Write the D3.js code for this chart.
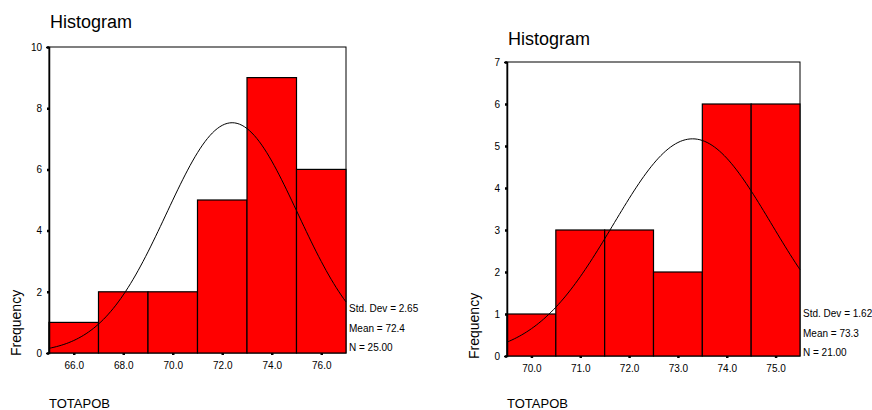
<!DOCTYPE html>
<html>
<head>
<meta charset="utf-8">
<script src="https://cdn.jsdelivr.net/npm/d3@7"></script>
<style>
  body { margin: 0; background: #fff; }
  text { font-family: "Liberation Sans", Arial, sans-serif; }
</style>
</head>
<body>
<div class="chart"></div>
<script>
// left histogram
const binsA = [65, 67, 69, 71, 73, 75, 77];
const countsA = [1, 2, 2, 5, 9, 6];
const xTicksA = [66, 68, 70, 72, 74, 76];
const yTicksA = [0, 2, 4, 6, 8, 10];
const statsA = { sd: 2.65, mean: 72.4, n: 25 };
const statLabelsA = ["Std. Dev = 2.65", "Mean = 72.4", "N = 25.00"];

// right histogram
const binsB = [69.5, 70.5, 71.5, 72.5, 73.5, 74.5, 75.5];
const countsB = [1, 3, 3, 2, 6, 6];
const xTicksB = [70, 71, 72, 73, 74, 75];
const yTicksB = [0, 1, 2, 3, 4, 5, 6, 7];
const statsB = { sd: 1.62, mean: 73.3, n: 21 };
const statLabelsB = ["Std. Dev = 1.62", "Mean = 73.3", "N = 21.00"];

const svg = d3.select(".chart").append("svg")
  .attr("width", 872)
  .attr("height", 410);

function drawHist(opt) {
  const g = svg.append("g");
  const bins = opt.bins;
  const x = d3.scaleLinear().domain([bins[0], bins[bins.length - 1]]).range([opt.left, opt.right]);
  const y = d3.scaleLinear().domain([0, opt.yMax]).range([opt.bottom, opt.top]);

  //title
  g.append("text").attr("x", opt.left + 1).attr("y", opt.titleY)
    .attr("font-size", 18).text("Histogram");

  //frame
  g.append("rect")
    .attr("x", opt.left).attr("y", opt.top)
    .attr("width", opt.right - opt.left).attr("height", opt.bottom - opt.top)
    .attr("fill", "none").attr("stroke", "#000").attr("stroke-width", 1);

  //bars
  g.selectAll("rect.bar").data(opt.counts).enter().append("rect")
    .attr("class", "bar")
    .attr("x", (d, i) => x(bins[i]))
    .attr("y", d => y(d))
    .attr("width", (d, i) => x(bins[i + 1]) - x(bins[i]))
    .attr("height", d => opt.bottom - y(d))
    .attr("fill", "#ff0000")
    .attr("stroke", "#000")
    .attr("stroke-width", 1.2);

  //normal curve from mean / sd / n
  const w = bins[1] - bins[0];
  const s = opt.stats;
  const pts = d3.range(0, 121).map(k => {
    const v = bins[0] + (bins[bins.length - 1] - bins[0]) * k / 120;
    const z = (v - s.mean) / s.sd;
    return [v, s.n * w / (s.sd * Math.sqrt(2 * Math.PI)) * Math.exp(-z * z / 2)];
  });
  g.append("path").datum(pts)
    .attr("d", d3.line().x(d => x(d[0])).y(d => y(d[1])).curve(d3.curveBasis))
    .attr("fill", "none").attr("stroke", "#000").attr("stroke-width", 1);

  //y axis
  const yAxis = d3.axisLeft(y).tickValues(opt.yTicks).tickSize(3).tickPadding(4).tickFormat(d3.format("d"));
  const ya = g.append("g").attr("transform", `translate(${opt.left},0)`).call(yAxis);
  ya.select(".domain").attr("stroke-width", 1.5);
  ya.selectAll(".tick line").attr("stroke-width", 2.5).attr("x2", -2);
  ya.selectAll("text").attr("font-size", 10).attr("font-family", "Liberation Sans, Arial, sans-serif");

  //x axis
  const xAxis = d3.axisBottom(x).tickValues(opt.xTicks).tickSize(3).tickPadding(6).tickFormat(d3.format(".1f"));
  const xa = g.append("g").attr("transform", `translate(0,${opt.bottom})`).call(xAxis);
  xa.select(".domain").remove();
  xa.selectAll(".tick line").attr("stroke-width", 2.5).attr("y2", 2);
  xa.selectAll("text").attr("font-size", 10).attr("font-family", "Liberation Sans, Arial, sans-serif");

  //axis titles
  g.append("text").attr("x", opt.left).attr("y", 408).attr("font-size", 13).text("TOTAPOB");
  g.append("text")
    .attr("transform", `translate(${opt.left - 28},${opt.bottom + 3}) rotate(-90)`)
    .attr("font-size", 14).text("Frequency");

  //stats
  g.selectAll("text.stat").data(opt.statLabels).enter().append("text")
    .attr("class", "stat")
    .attr("x", opt.right + 3)
    .attr("y", (d, i) => opt.statY + i * 19.5)
    .attr("font-size", 10)
    .text(d => d);
}

drawHist({
  bins: binsA, counts: countsA, xTicks: xTicksA, yTicks: yTicksA, yMax: 10,
  stats: statsA, statLabels: statLabelsA,
  left: 49, right: 346, top: 47, bottom: 353, titleY: 28, statY: 312
});

drawHist({
  bins: binsB, counts: countsB, xTicks: xTicksB, yTicks: yTicksB, yMax: 7,
  stats: statsB, statLabels: statLabelsB,
  left: 507, right: 800, top: 62, bottom: 356, titleY: 45, statY: 317
});
</script>
</body>
</html>
